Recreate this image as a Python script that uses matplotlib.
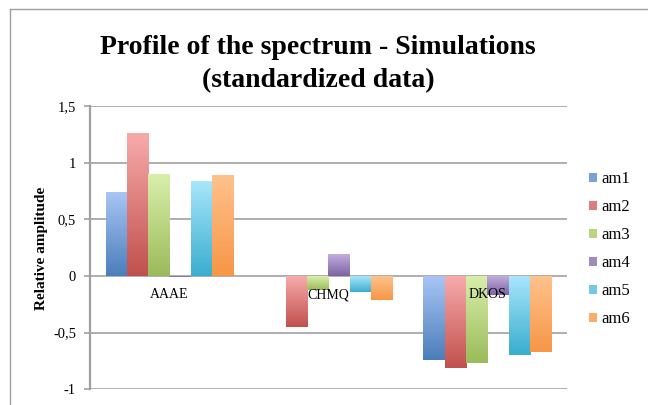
import matplotlib.pyplot as plt
import matplotlib.colors as mcolors
from matplotlib.lines import Line2D
import numpy as np

plt.rcParams['font.family'] = ['Liberation Serif', 'DejaVu Serif']

# Data
categories = ['AAAE', 'CHMQ', 'DKOS']
series = ['am1', 'am2', 'am3', 'am4', 'am5', 'am6']
values = {
    'am1': [0.74, -0.003, -0.74],
    'am2': [1.26, -0.45, -0.81],
    'am3': [0.90, -0.12, -0.77],
    'am4': [-0.01, 0.195, -0.17],
    'am5': [0.84, -0.14, -0.70],
    'am6': [0.89, -0.21, -0.67],
}
yticks = [-1, -0.5, 0, 0.5, 1, 1.5]
ytick_labels = ['-1', '-0,5', '0', '0,5', '1', '1,5']

# gradient colours (top light, bottom dark)
top_colors = ['#a9c5f5', '#f8abab', '#d8efab', '#c4b2e2', '#a9e7fc', '#fec28c']
bottom_colors = ['#4a7ebb', '#c0504d', '#9bbb59', '#7d62a0', '#3aadcf', '#f79646']

fig = plt.figure(figsize=(6.48, 4.05), dpi=100)
ax = fig.add_axes([0.1389, 0.0388, 0.7356, 0.6995])

x = np.arange(len(categories))
bw = 0.134
grad = np.linspace(0, 1, 256)

for i, name in enumerate(series):
    c_top = np.array(mcolors.to_rgb(top_colors[i]))
    c_bot = np.array(mcolors.to_rgb(bottom_colors[i]))
    mid = (c_top + c_bot) / 2
    bars = ax.bar(x + (i - 2.5) * bw, values[name], width=bw, color=mid,
                  label=name, zorder=1, linewidth=0)
    img = c_top[None, :] * (1 - grad[:, None]) + c_bot[None, :] * grad[:, None]
    img = img[:, None, :]
    for b in bars:
        x0, w = b.get_x(), b.get_width()
        y0, h = b.get_y(), b.get_height()
        lo, hi = min(y0, y0 + h), max(y0, y0 + h)
        im = ax.imshow(img, extent=[x0, x0 + w, lo, hi], aspect='auto',
                       origin='upper', zorder=1.5)
        im.set_clip_path(b)

ax.set_xlim(-0.5, 2.5)
ax.set_ylim(-1, 1.5)
ax.set_yticks(yticks)
ax.set_yticklabels(ytick_labels, fontsize=10.5)
ax.set_xticks(x)
ax.set_xticklabels(categories, fontsize=9.5)

ax.set_axisbelow(True)
ax.yaxis.grid(True, color='#a8a8a8', linewidth=1.3, zorder=0.5)
ax.xaxis.set_zorder(3)  # category labels sit over the bars

ax.spines['top'].set_visible(False)
ax.spines['right'].set_visible(False)
ax.spines['bottom'].set_position(('data', 0))
ax.spines['bottom'].set_visible(False)
ax.spines['left'].set_color('#a0a0a0')
ax.spines['left'].set_linewidth(1.6)
ax.spines['left'].set_zorder(3)
ax.tick_params(axis='y', length=4, width=1.2, color='#a0a0a0', pad=6)
ax.tick_params(axis='x', length=0, pad=9)

fig.text(42 / 648, 1 - 248 / 405, 'Relative amplitude', rotation=90,
         ha='center', va='center', fontsize=11, fontweight='bold')

fig.text(318 / 648, 1 - 64 / 405,
         'Profile of the spectrum - Simulations\n(standardized data)',
         ha='center', va='center', fontsize=20, fontweight='bold',
         linespacing=1.38)

leg = fig.legend(loc='upper left', bbox_to_anchor=(589 / 648, 1 - 171 / 405),
                 frameon=False, fontsize=12, handlelength=0.45,
                 handleheight=0.45, handletextpad=0.3, labelspacing=0.72,
                 borderpad=0, borderaxespad=0)

# outer chart border
fig.add_artist(Line2D([10 / 648, 10 / 648], [0, 1 - 9 / 405],
                      transform=fig.transFigure, color='#a0a0a0', lw=1))
fig.add_artist(Line2D([10 / 648, 1], [1 - 9 / 405, 1 - 9 / 405],
                      transform=fig.transFigure, color='#a0a0a0', lw=1))

fig.savefig('out.png', dpi=100)
